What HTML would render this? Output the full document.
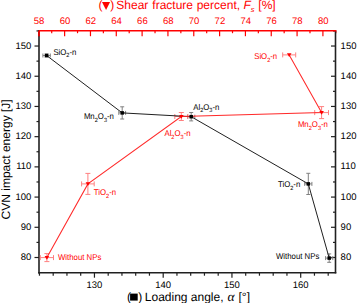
<!DOCTYPE html>
<html><head><meta charset="utf-8"><style>
html,body{margin:0;padding:0;background:#fff;}
svg{display:block;font-family:"Liberation Sans", sans-serif;text-rendering:geometricPrecision;}
</style></head><body>
<svg width="357" height="303" viewBox="0 0 357 303">
<rect width="357" height="303" fill="#fff"/>
<line x1="34.50" y1="257.50" x2="39.0" y2="257.50" stroke="#202020" stroke-width="1.2"/>
<text x="31.40" y="260.10" text-anchor="end" font-size="9.5" fill="#000000">80</text>
<line x1="34.50" y1="227.29" x2="39.0" y2="227.29" stroke="#202020" stroke-width="1.2"/>
<text x="31.40" y="229.89" text-anchor="end" font-size="9.5" fill="#000000">90</text>
<line x1="34.50" y1="197.08" x2="39.0" y2="197.08" stroke="#202020" stroke-width="1.2"/>
<text x="31.40" y="199.68" text-anchor="end" font-size="9.5" fill="#000000">100</text>
<line x1="34.50" y1="166.87" x2="39.0" y2="166.87" stroke="#202020" stroke-width="1.2"/>
<text x="31.40" y="169.47" text-anchor="end" font-size="9.5" fill="#000000">110</text>
<line x1="34.50" y1="136.66" x2="39.0" y2="136.66" stroke="#202020" stroke-width="1.2"/>
<text x="31.40" y="139.26" text-anchor="end" font-size="9.5" fill="#000000">120</text>
<line x1="34.50" y1="106.45" x2="39.0" y2="106.45" stroke="#202020" stroke-width="1.2"/>
<text x="31.40" y="109.05" text-anchor="end" font-size="9.5" fill="#000000">130</text>
<line x1="34.50" y1="76.24" x2="39.0" y2="76.24" stroke="#202020" stroke-width="1.2"/>
<text x="31.40" y="78.84" text-anchor="end" font-size="9.5" fill="#000000">140</text>
<line x1="34.50" y1="46.03" x2="39.0" y2="46.03" stroke="#202020" stroke-width="1.2"/>
<text x="31.40" y="48.63" text-anchor="end" font-size="9.5" fill="#000000">150</text>
<line x1="36.50" y1="242.40" x2="39.0" y2="242.40" stroke="#202020" stroke-width="1.2"/>
<line x1="36.50" y1="212.19" x2="39.0" y2="212.19" stroke="#202020" stroke-width="1.2"/>
<line x1="36.50" y1="181.98" x2="39.0" y2="181.98" stroke="#202020" stroke-width="1.2"/>
<line x1="36.50" y1="151.76" x2="39.0" y2="151.76" stroke="#202020" stroke-width="1.2"/>
<line x1="36.50" y1="121.56" x2="39.0" y2="121.56" stroke="#202020" stroke-width="1.2"/>
<line x1="36.50" y1="91.34" x2="39.0" y2="91.34" stroke="#202020" stroke-width="1.2"/>
<line x1="36.50" y1="61.14" x2="39.0" y2="61.14" stroke="#202020" stroke-width="1.2"/>
<line x1="36.50" y1="30.93" x2="39.0" y2="30.93" stroke="#202020" stroke-width="1.2"/>
<line x1="331.00" y1="257.50" x2="335.5" y2="257.50" stroke="#202020" stroke-width="1.2"/>
<text x="340.60" y="260.10" text-anchor="start" font-size="9.5" fill="#000000">80</text>
<line x1="331.00" y1="227.29" x2="335.5" y2="227.29" stroke="#202020" stroke-width="1.2"/>
<text x="340.60" y="229.89" text-anchor="start" font-size="9.5" fill="#000000">90</text>
<line x1="331.00" y1="197.08" x2="335.5" y2="197.08" stroke="#202020" stroke-width="1.2"/>
<text x="340.60" y="199.68" text-anchor="start" font-size="9.5" fill="#000000">100</text>
<line x1="331.00" y1="166.87" x2="335.5" y2="166.87" stroke="#202020" stroke-width="1.2"/>
<text x="340.60" y="169.47" text-anchor="start" font-size="9.5" fill="#000000">110</text>
<line x1="331.00" y1="136.66" x2="335.5" y2="136.66" stroke="#202020" stroke-width="1.2"/>
<text x="340.60" y="139.26" text-anchor="start" font-size="9.5" fill="#000000">120</text>
<line x1="331.00" y1="106.45" x2="335.5" y2="106.45" stroke="#202020" stroke-width="1.2"/>
<text x="340.60" y="109.05" text-anchor="start" font-size="9.5" fill="#000000">130</text>
<line x1="331.00" y1="76.24" x2="335.5" y2="76.24" stroke="#202020" stroke-width="1.2"/>
<text x="340.60" y="78.84" text-anchor="start" font-size="9.5" fill="#000000">140</text>
<line x1="331.00" y1="46.03" x2="335.5" y2="46.03" stroke="#202020" stroke-width="1.2"/>
<text x="340.60" y="48.63" text-anchor="start" font-size="9.5" fill="#000000">150</text>
<line x1="333.00" y1="242.40" x2="335.5" y2="242.40" stroke="#202020" stroke-width="1.2"/>
<line x1="333.00" y1="212.19" x2="335.5" y2="212.19" stroke="#202020" stroke-width="1.2"/>
<line x1="333.00" y1="181.98" x2="335.5" y2="181.98" stroke="#202020" stroke-width="1.2"/>
<line x1="333.00" y1="151.76" x2="335.5" y2="151.76" stroke="#202020" stroke-width="1.2"/>
<line x1="333.00" y1="121.56" x2="335.5" y2="121.56" stroke="#202020" stroke-width="1.2"/>
<line x1="333.00" y1="91.34" x2="335.5" y2="91.34" stroke="#202020" stroke-width="1.2"/>
<line x1="333.00" y1="61.14" x2="335.5" y2="61.14" stroke="#202020" stroke-width="1.2"/>
<line x1="333.00" y1="30.93" x2="335.5" y2="30.93" stroke="#202020" stroke-width="1.2"/>
<line x1="39.45" y1="272.7" x2="39.45" y2="275.7" stroke="#202020" stroke-width="1.2"/>
<line x1="53.20" y1="272.7" x2="53.20" y2="275.7" stroke="#202020" stroke-width="1.2"/>
<line x1="66.95" y1="272.7" x2="66.95" y2="275.7" stroke="#202020" stroke-width="1.2"/>
<line x1="80.70" y1="272.7" x2="80.70" y2="275.7" stroke="#202020" stroke-width="1.2"/>
<line x1="94.45" y1="272.7" x2="94.45" y2="277.7" stroke="#202020" stroke-width="1.2"/>
<text x="94.45" y="288.00" text-anchor="middle" font-size="9.5" fill="#000000">130</text>
<line x1="108.20" y1="272.7" x2="108.20" y2="275.7" stroke="#202020" stroke-width="1.2"/>
<line x1="121.95" y1="272.7" x2="121.95" y2="275.7" stroke="#202020" stroke-width="1.2"/>
<line x1="135.70" y1="272.7" x2="135.70" y2="275.7" stroke="#202020" stroke-width="1.2"/>
<line x1="149.45" y1="272.7" x2="149.45" y2="275.7" stroke="#202020" stroke-width="1.2"/>
<line x1="163.20" y1="272.7" x2="163.20" y2="277.7" stroke="#202020" stroke-width="1.2"/>
<text x="163.20" y="288.00" text-anchor="middle" font-size="9.5" fill="#000000">140</text>
<line x1="176.95" y1="272.7" x2="176.95" y2="275.7" stroke="#202020" stroke-width="1.2"/>
<line x1="190.70" y1="272.7" x2="190.70" y2="275.7" stroke="#202020" stroke-width="1.2"/>
<line x1="204.45" y1="272.7" x2="204.45" y2="275.7" stroke="#202020" stroke-width="1.2"/>
<line x1="218.20" y1="272.7" x2="218.20" y2="275.7" stroke="#202020" stroke-width="1.2"/>
<line x1="231.95" y1="272.7" x2="231.95" y2="277.7" stroke="#202020" stroke-width="1.2"/>
<text x="231.95" y="288.00" text-anchor="middle" font-size="9.5" fill="#000000">150</text>
<line x1="245.70" y1="272.7" x2="245.70" y2="275.7" stroke="#202020" stroke-width="1.2"/>
<line x1="259.45" y1="272.7" x2="259.45" y2="275.7" stroke="#202020" stroke-width="1.2"/>
<line x1="273.20" y1="272.7" x2="273.20" y2="275.7" stroke="#202020" stroke-width="1.2"/>
<line x1="286.95" y1="272.7" x2="286.95" y2="275.7" stroke="#202020" stroke-width="1.2"/>
<line x1="300.70" y1="272.7" x2="300.70" y2="277.7" stroke="#202020" stroke-width="1.2"/>
<text x="300.70" y="288.00" text-anchor="middle" font-size="9.5" fill="#000000">160</text>
<line x1="314.45" y1="272.7" x2="314.45" y2="275.7" stroke="#202020" stroke-width="1.2"/>
<line x1="328.20" y1="272.7" x2="328.20" y2="275.7" stroke="#202020" stroke-width="1.2"/>
<line x1="38.80" y1="30.7" x2="38.80" y2="36.2" stroke="#ff0000" stroke-width="1.2"/>
<text x="39.10" y="24.40" text-anchor="middle" font-size="9.5" fill="#ff0000">58</text>
<line x1="51.71" y1="30.7" x2="51.71" y2="33.2" stroke="#ff0000" stroke-width="1.2"/>
<line x1="64.63" y1="30.7" x2="64.63" y2="36.2" stroke="#ff0000" stroke-width="1.2"/>
<text x="64.93" y="24.40" text-anchor="middle" font-size="9.5" fill="#ff0000">60</text>
<line x1="77.54" y1="30.7" x2="77.54" y2="33.2" stroke="#ff0000" stroke-width="1.2"/>
<line x1="90.46" y1="30.7" x2="90.46" y2="36.2" stroke="#ff0000" stroke-width="1.2"/>
<text x="90.76" y="24.40" text-anchor="middle" font-size="9.5" fill="#ff0000">62</text>
<line x1="103.37" y1="30.7" x2="103.37" y2="33.2" stroke="#ff0000" stroke-width="1.2"/>
<line x1="116.28" y1="30.7" x2="116.28" y2="36.2" stroke="#ff0000" stroke-width="1.2"/>
<text x="116.58" y="24.40" text-anchor="middle" font-size="9.5" fill="#ff0000">64</text>
<line x1="129.20" y1="30.7" x2="129.20" y2="33.2" stroke="#ff0000" stroke-width="1.2"/>
<line x1="142.11" y1="30.7" x2="142.11" y2="36.2" stroke="#ff0000" stroke-width="1.2"/>
<text x="142.41" y="24.40" text-anchor="middle" font-size="9.5" fill="#ff0000">66</text>
<line x1="155.03" y1="30.7" x2="155.03" y2="33.2" stroke="#ff0000" stroke-width="1.2"/>
<line x1="167.94" y1="30.7" x2="167.94" y2="36.2" stroke="#ff0000" stroke-width="1.2"/>
<text x="168.24" y="24.40" text-anchor="middle" font-size="9.5" fill="#ff0000">68</text>
<line x1="180.85" y1="30.7" x2="180.85" y2="33.2" stroke="#ff0000" stroke-width="1.2"/>
<line x1="193.77" y1="30.7" x2="193.77" y2="36.2" stroke="#ff0000" stroke-width="1.2"/>
<text x="194.07" y="24.40" text-anchor="middle" font-size="9.5" fill="#ff0000">70</text>
<line x1="206.68" y1="30.7" x2="206.68" y2="33.2" stroke="#ff0000" stroke-width="1.2"/>
<line x1="219.60" y1="30.7" x2="219.60" y2="36.2" stroke="#ff0000" stroke-width="1.2"/>
<text x="219.90" y="24.40" text-anchor="middle" font-size="9.5" fill="#ff0000">72</text>
<line x1="232.51" y1="30.7" x2="232.51" y2="33.2" stroke="#ff0000" stroke-width="1.2"/>
<line x1="245.42" y1="30.7" x2="245.42" y2="36.2" stroke="#ff0000" stroke-width="1.2"/>
<text x="245.72" y="24.40" text-anchor="middle" font-size="9.5" fill="#ff0000">74</text>
<line x1="258.34" y1="30.7" x2="258.34" y2="33.2" stroke="#ff0000" stroke-width="1.2"/>
<line x1="271.25" y1="30.7" x2="271.25" y2="36.2" stroke="#ff0000" stroke-width="1.2"/>
<text x="271.55" y="24.40" text-anchor="middle" font-size="9.5" fill="#ff0000">76</text>
<line x1="284.17" y1="30.7" x2="284.17" y2="33.2" stroke="#ff0000" stroke-width="1.2"/>
<line x1="297.08" y1="30.7" x2="297.08" y2="36.2" stroke="#ff0000" stroke-width="1.2"/>
<text x="297.38" y="24.40" text-anchor="middle" font-size="9.5" fill="#ff0000">78</text>
<line x1="309.99" y1="30.7" x2="309.99" y2="33.2" stroke="#ff0000" stroke-width="1.2"/>
<line x1="322.91" y1="30.7" x2="322.91" y2="36.2" stroke="#ff0000" stroke-width="1.2"/>
<text x="323.21" y="24.40" text-anchor="middle" font-size="9.5" fill="#ff0000">80</text>
<line x1="335.82" y1="30.7" x2="335.82" y2="33.2" stroke="#ff0000" stroke-width="1.2"/>
<line x1="39.0" y1="30.2" x2="39.0" y2="273.4" stroke="#202020" stroke-width="1.6"/>
<line x1="335.5" y1="30.2" x2="335.5" y2="273.4" stroke="#202020" stroke-width="1.6"/>
<line x1="38.2" y1="272.7" x2="336.3" y2="272.7" stroke="#202020" stroke-width="1.6"/>
<line x1="39.0" y1="30.7" x2="336.3" y2="30.7" stroke="#ff0000" stroke-width="1.6"/>
<line x1="39.0" y1="30.7" x2="39.0" y2="36.2" stroke="#ff0000" stroke-width="1.6"/>
<line x1="42.90" y1="55.50" x2="50.30" y2="55.50" stroke="#808080" stroke-width="1"/>
<line x1="42.90" y1="53.50" x2="42.90" y2="57.50" stroke="#808080" stroke-width="1"/>
<line x1="50.30" y1="53.50" x2="50.30" y2="57.50" stroke="#808080" stroke-width="1"/>
<line x1="46.60" y1="54.00" x2="46.60" y2="57.00" stroke="#808080" stroke-width="1"/>
<line x1="44.60" y1="54.00" x2="48.60" y2="54.00" stroke="#808080" stroke-width="1"/>
<line x1="44.60" y1="57.00" x2="48.60" y2="57.00" stroke="#808080" stroke-width="1"/>
<line x1="118.80" y1="112.90" x2="125.60" y2="112.90" stroke="#808080" stroke-width="1"/>
<line x1="118.80" y1="110.90" x2="118.80" y2="114.90" stroke="#808080" stroke-width="1"/>
<line x1="125.60" y1="110.90" x2="125.60" y2="114.90" stroke="#808080" stroke-width="1"/>
<line x1="122.20" y1="106.80" x2="122.20" y2="119.00" stroke="#808080" stroke-width="1"/>
<line x1="120.20" y1="106.80" x2="124.20" y2="106.80" stroke="#808080" stroke-width="1"/>
<line x1="120.20" y1="119.00" x2="124.20" y2="119.00" stroke="#808080" stroke-width="1"/>
<line x1="187.60" y1="116.70" x2="194.80" y2="116.70" stroke="#808080" stroke-width="1"/>
<line x1="187.60" y1="114.70" x2="187.60" y2="118.70" stroke="#808080" stroke-width="1"/>
<line x1="194.80" y1="114.70" x2="194.80" y2="118.70" stroke="#808080" stroke-width="1"/>
<line x1="191.20" y1="112.50" x2="191.20" y2="120.90" stroke="#808080" stroke-width="1"/>
<line x1="189.20" y1="112.50" x2="193.20" y2="112.50" stroke="#808080" stroke-width="1"/>
<line x1="189.20" y1="120.90" x2="193.20" y2="120.90" stroke="#808080" stroke-width="1"/>
<line x1="304.70" y1="183.90" x2="311.90" y2="183.90" stroke="#808080" stroke-width="1"/>
<line x1="304.70" y1="181.90" x2="304.70" y2="185.90" stroke="#808080" stroke-width="1"/>
<line x1="311.90" y1="181.90" x2="311.90" y2="185.90" stroke="#808080" stroke-width="1"/>
<line x1="308.30" y1="173.30" x2="308.30" y2="194.50" stroke="#808080" stroke-width="1"/>
<line x1="306.30" y1="173.30" x2="310.30" y2="173.30" stroke="#808080" stroke-width="1"/>
<line x1="306.30" y1="194.50" x2="310.30" y2="194.50" stroke="#808080" stroke-width="1"/>
<line x1="325.60" y1="258.10" x2="332.80" y2="258.10" stroke="#808080" stroke-width="1"/>
<line x1="325.60" y1="256.10" x2="325.60" y2="260.10" stroke="#808080" stroke-width="1"/>
<line x1="332.80" y1="256.10" x2="332.80" y2="260.10" stroke="#808080" stroke-width="1"/>
<line x1="329.20" y1="253.90" x2="329.20" y2="262.30" stroke="#808080" stroke-width="1"/>
<line x1="327.20" y1="253.90" x2="331.20" y2="253.90" stroke="#808080" stroke-width="1"/>
<line x1="327.20" y1="262.30" x2="331.20" y2="262.30" stroke="#808080" stroke-width="1"/>
<line x1="40.30" y1="257.60" x2="53.50" y2="257.60" stroke="#ff8080" stroke-width="1"/>
<line x1="40.30" y1="255.10" x2="40.30" y2="260.10" stroke="#ff8080" stroke-width="1"/>
<line x1="53.50" y1="255.10" x2="53.50" y2="260.10" stroke="#ff8080" stroke-width="1"/>
<line x1="46.90" y1="253.60" x2="46.90" y2="261.60" stroke="#ff8080" stroke-width="1"/>
<line x1="44.40" y1="253.60" x2="49.40" y2="253.60" stroke="#ff8080" stroke-width="1"/>
<line x1="44.40" y1="261.60" x2="49.40" y2="261.60" stroke="#ff8080" stroke-width="1"/>
<line x1="81.60" y1="183.90" x2="94.20" y2="183.90" stroke="#ff8080" stroke-width="1"/>
<line x1="81.60" y1="181.40" x2="81.60" y2="186.40" stroke="#ff8080" stroke-width="1"/>
<line x1="94.20" y1="181.40" x2="94.20" y2="186.40" stroke="#ff8080" stroke-width="1"/>
<line x1="87.90" y1="173.40" x2="87.90" y2="194.40" stroke="#ff8080" stroke-width="1"/>
<line x1="85.40" y1="173.40" x2="90.40" y2="173.40" stroke="#ff8080" stroke-width="1"/>
<line x1="85.40" y1="194.40" x2="90.40" y2="194.40" stroke="#ff8080" stroke-width="1"/>
<line x1="174.80" y1="116.50" x2="187.80" y2="116.50" stroke="#ff8080" stroke-width="1"/>
<line x1="174.80" y1="114.00" x2="174.80" y2="119.00" stroke="#ff8080" stroke-width="1"/>
<line x1="187.80" y1="114.00" x2="187.80" y2="119.00" stroke="#ff8080" stroke-width="1"/>
<line x1="181.30" y1="112.50" x2="181.30" y2="120.50" stroke="#ff8080" stroke-width="1"/>
<line x1="178.80" y1="112.50" x2="183.80" y2="112.50" stroke="#ff8080" stroke-width="1"/>
<line x1="178.80" y1="120.50" x2="183.80" y2="120.50" stroke="#ff8080" stroke-width="1"/>
<line x1="314.70" y1="112.60" x2="328.50" y2="112.60" stroke="#ff8080" stroke-width="1"/>
<line x1="314.70" y1="110.10" x2="314.70" y2="115.10" stroke="#ff8080" stroke-width="1"/>
<line x1="328.50" y1="110.10" x2="328.50" y2="115.10" stroke="#ff8080" stroke-width="1"/>
<line x1="321.60" y1="106.60" x2="321.60" y2="118.60" stroke="#ff8080" stroke-width="1"/>
<line x1="319.10" y1="106.60" x2="324.10" y2="106.60" stroke="#ff8080" stroke-width="1"/>
<line x1="319.10" y1="118.60" x2="324.10" y2="118.60" stroke="#ff8080" stroke-width="1"/>
<line x1="282.70" y1="54.90" x2="295.70" y2="54.90" stroke="#ff8080" stroke-width="1"/>
<line x1="282.70" y1="52.40" x2="282.70" y2="57.40" stroke="#ff8080" stroke-width="1"/>
<line x1="295.70" y1="52.40" x2="295.70" y2="57.40" stroke="#ff8080" stroke-width="1"/>
<polyline points="46.60,55.50 122.20,112.90 191.20,116.70 308.30,183.90 329.20,258.10" fill="none" stroke="#202020" stroke-width="1"/>
<polyline points="46.90,257.60 87.90,183.90 181.30,116.50 321.60,112.60 289.20,54.90" fill="none" stroke="#ff2a2a" stroke-width="1.05"/>
<rect x="44.85" y="53.75" width="3.5" height="3.5" fill="#000"/>
<rect x="120.45" y="111.15" width="3.5" height="3.5" fill="#000"/>
<rect x="189.45" y="114.95" width="3.5" height="3.5" fill="#000"/>
<rect x="306.55" y="182.15" width="3.5" height="3.5" fill="#000"/>
<rect x="327.45" y="256.35" width="3.5" height="3.5" fill="#000"/>
<polygon points="44.60,256.00 49.20,256.00 46.90,259.80" fill="#ff0000"/>
<polygon points="85.60,182.30 90.20,182.30 87.90,186.10" fill="#ff0000"/>
<polygon points="179.00,114.90 183.60,114.90 181.30,118.70" fill="#ff0000"/>
<polygon points="319.30,111.00 323.90,111.00 321.60,114.80" fill="#ff0000"/>
<polygon points="286.90,53.30 291.50,53.30 289.20,57.10" fill="#ff0000"/>
<text transform="translate(53.38,54.60) scale(0.93,1)" font-size="8.4" fill="#000000">SiO<tspan font-size="6.0" dy="2.8">2</tspan><tspan dy="-2.8">-n</tspan></text>
<text transform="translate(83.88,118.90) scale(0.93,1)" font-size="8.4" fill="#000000">Mn<tspan font-size="6.0" dy="2.8">2</tspan><tspan dy="-2.8">O</tspan><tspan font-size="6.0" dy="2.8">3</tspan><tspan dy="-2.8">-n</tspan></text>
<text transform="translate(193.24,109.50) scale(0.93,1)" font-size="8.4" fill="#000000">Al<tspan font-size="6.0" dy="2.8">2</tspan><tspan dy="-2.8">O</tspan><tspan font-size="6.0" dy="2.8">3</tspan><tspan dy="-2.8">-n</tspan></text>
<text transform="translate(277.95,187.30) scale(0.93,1)" font-size="8.4" fill="#000000">TiO<tspan font-size="6.0" dy="2.8">2</tspan><tspan dy="-2.8">-n</tspan></text>
<text transform="translate(276.01,258.90) scale(0.93,1)" font-size="8.4" fill="#000000">Without NPs</text>
<text transform="translate(254.18,59.40) scale(0.93,1)" font-size="8.4" fill="#ff0000">SiO<tspan font-size="6.0" dy="2.8">2</tspan><tspan dy="-2.8">-n</tspan></text>
<text transform="translate(297.88,127.00) scale(0.93,1)" font-size="8.4" fill="#ff0000">Mn<tspan font-size="6.0" dy="2.8">2</tspan><tspan dy="-2.8">O</tspan><tspan font-size="6.0" dy="2.8">3</tspan><tspan dy="-2.8">-n</tspan></text>
<text transform="translate(164.44,136.00) scale(0.93,1)" font-size="8.4" fill="#ff0000">Al<tspan font-size="6.0" dy="2.8">2</tspan><tspan dy="-2.8">O</tspan><tspan font-size="6.0" dy="2.8">3</tspan><tspan dy="-2.8">-n</tspan></text>
<text transform="translate(93.85,195.30) scale(0.93,1)" font-size="8.4" fill="#ff0000">TiO<tspan font-size="6.0" dy="2.8">2</tspan><tspan dy="-2.8">-n</tspan></text>
<text transform="translate(58.01,259.90) scale(0.93,1)" font-size="8.4" fill="#ff0000">Without NPs</text>
<text x="98.5" y="9.2" font-size="12" fill="#ff0000">(</text>
<polygon points="102.0,2.1 110.1,2.1 106.05,10.1" fill="#ff0000"/>
<text x="110.2" y="9.2" font-size="12" fill="#ff0000">)</text>
<text x="116.3" y="9.0" font-size="12" fill="#ff0000">Shear</text>
<text x="152.3" y="9.0" font-size="12" fill="#ff0000">fracture</text>
<text x="196.7" y="9.0" font-size="12" fill="#ff0000">percent,</text>
<text x="243.6" y="9.0" font-size="12" font-style="italic" fill="#ff0000">F</text>
<text x="250.7" y="12.2" font-size="7.5" font-style="italic" fill="#ff0000">s</text>
<text x="258.3" y="9.0" font-size="12" fill="#ff0000">[%]</text>
<text x="126.9" y="300.6" font-size="12" fill="#000000">(</text>
<rect x="130.1" y="293.6" width="7.6" height="7.0" fill="#000000"/>
<text x="138.2" y="300.6" font-size="12" fill="#000000">)</text>
<text x="144.8" y="300.6" font-size="12" fill="#000000">Loading angle,</text>
<text x="227.6" y="300.6" font-size="13.5" font-family="Liberation Serif" font-style="italic" fill="#000000">α</text>
<text x="238.5" y="300.6" font-size="12" fill="#000000">[°]</text>
<text transform="translate(9.8,219.4) rotate(-90)" x="0" y="0" font-size="12" fill="#000000">CVN impact energy [J]</text>
</svg>
</body></html>
